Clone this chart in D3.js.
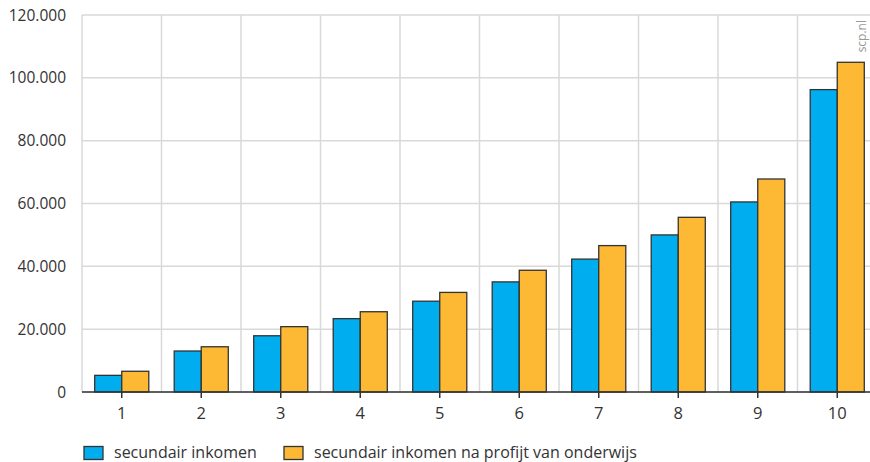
<!DOCTYPE html>
<html>
<head>
<meta charset="utf-8">
<script src="https://cdn.jsdelivr.net/npm/d3@7"></script>
<style>
  html, body { margin: 0; padding: 0; background: #fff; }
  svg { display: block; font-family: "Open Sans", sans-serif; }
</style>
</head>
<body>
<svg id="chart" width="870" height="462"></svg>
<script>
const categories = ["1","2","3","4","5","6","7","8","9","10"];
const seriesNames = ["secundair inkomen", "secundair inkomen na profijt van onderwijs"];
const secundair = [5300, 13050, 17900, 23350, 28900, 35050, 42300, 50000, 60500, 96250];
const naProfijt = [6600, 14400, 20800, 25550, 31700, 38750, 46600, 55600, 67800, 104950];
const yTicks = [0, 20000, 40000, 60000, 80000, 100000, 120000];
const colors = ["#00aeef", "#fdb933"];

(function () {
const svg = d3.select("#chart");
const mLeft = 82, mRight = 877, mTop = 15, mBottom = 392;

const x = d3.scaleBand().domain(categories).range([mLeft, mRight]).paddingInner(0).paddingOuter(0);
const inner = d3.scaleBand().domain([0, 1]).range([0, x.bandwidth()]).paddingInner(0).paddingOuter(0.47);
const y = d3.scaleLinear().domain([0, 120000]).range([mBottom, mTop]);

const fmt = v => d3.format(",")(v).replace(/,/g, ".");

// horizontal grid
svg.append("g").selectAll("line").data(yTicks).join("line")
  .attr("x1", mLeft).attr("x2", 870)
  .attr("y1", d => y(d)).attr("y2", d => y(d))
  .attr("stroke", "#d9d9d9").attr("stroke-width", 1.5);

// vertical grid (band boundaries)
const bounds = categories.map(c => x(c)).concat([x(categories[categories.length - 1]) + x.bandwidth()]);
svg.append("g").selectAll("line").data(bounds).join("line")
  .attr("x1", d => d).attr("x2", d => d)
  .attr("y1", mTop).attr("y2", mBottom)
  .attr("stroke", "#d9d9d9").attr("stroke-width", 1.5);

// y labels
svg.append("g").selectAll("text").data(yTicks).join("text")
  .attr("x", 66).attr("y", d => y(d) + 1.5)
  .attr("text-anchor", "end").attr("dominant-baseline", "middle")
  .attr("font-size", 15.5).attr("fill", "#333")
  .text(fmt);

// bars
const data = categories.map((c, i) => ({ c, vals: [secundair[i], naProfijt[i]] }));
const groups = svg.append("g").selectAll("g").data(data).join("g")
  .attr("transform", d => `translate(${x(d.c)},0)`);
groups.selectAll("rect").data(d => d.vals.map((v, k) => ({ v, k }))).join("rect")
  .attr("x", d => inner(d.k))
  .attr("width", inner.bandwidth())
  .attr("y", d => y(d.v))
  .attr("height", d => y(0) - y(d.v))
  .attr("fill", d => colors[d.k])
  .attr("stroke", "#333").attr("stroke-width", 1.3);

// x axis
const xAxis = svg.append("g").attr("transform", `translate(0,${mBottom})`)
  .call(d3.axisBottom(x).tickSize(6).tickPadding(9).tickSizeOuter(0));
xAxis.select(".domain").attr("stroke", "#333").attr("stroke-width", 1.5)
  .attr("d", `M${mLeft},0H870`);
xAxis.selectAll(".tick line").attr("stroke", "#333").attr("stroke-width", 1.5);
xAxis.selectAll(".tick text").attr("font-size", 16.5).attr("fill", "#333")
  .attr("font-family", "Open Sans, sans-serif");

// legend
const legendX = [84, 284];
const lg = svg.append("g").selectAll("g").data(seriesNames).join("g")
  .attr("transform", (d, i) => `translate(${legendX[i]},446.5)`);
lg.append("rect").attr("width", 19).attr("height", 13)
  .attr("fill", (d, i) => colors[i]).attr("stroke", "#333").attr("stroke-width", 1.3);
lg.append("text").attr("x", 30).attr("y", 11.5)
  .attr("font-size", 16).attr("fill", "#333").text(d => d);

// watermark
svg.append("text").attr("transform", "translate(866,20) rotate(-90)")
  .attr("text-anchor", "end").attr("font-size", 12).attr("fill", "#999")
  .text("scp.nl");
})();
</script>
</body>
</html>
